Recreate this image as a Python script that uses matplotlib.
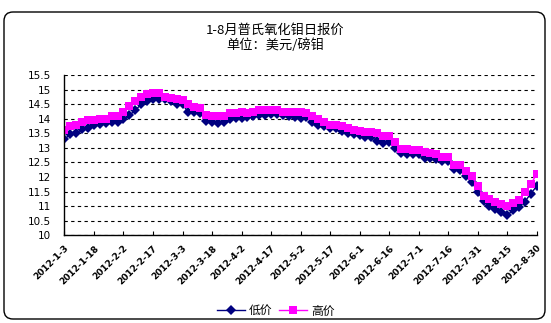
import matplotlib
matplotlib.use('Agg')
import matplotlib.pyplot as plt
from matplotlib.patches import FancyBboxPatch
import pandas as pd

plt.rcParams['font.family'] = ['Noto Sans CJK SC', 'DejaVu Sans']

# daily quote samples, every third day from 2012-01-03
start_date = '2012-01-03'
low_price = [13.3, 13.47, 13.5, 13.65, 13.7, 13.8, 13.82, 13.85, 13.9, 13.9,
             14.0, 14.12, 14.3, 14.5, 14.6, 14.7, 14.7, 14.7, 14.6, 14.52,
             14.5, 14.22, 14.22, 14.2, 13.92, 13.88, 13.87, 13.9, 13.98, 14.04,
             14.04, 14.08, 14.1, 14.12, 14.15, 14.16, 14.16, 14.12, 14.1, 14.08,
             14.04, 14.05, 13.9, 13.78, 13.75, 13.67, 13.67, 13.58, 13.52, 13.47,
             13.43, 13.38, 13.36, 13.25, 13.17, 13.2, 13.0, 12.82, 12.8, 12.8,
             12.8, 12.67, 12.67, 12.62, 12.55, 12.55, 12.28, 12.23, 12.03, 11.83,
             11.5, 11.18, 11.0, 10.9, 10.8, 10.69, 10.85, 10.98, 11.15, 11.43,
             11.68]
high_price = [13.6, 13.75, 13.78, 13.9, 13.95, 13.97, 14.0, 14.0, 14.1, 14.1,
              14.25, 14.45, 14.6, 14.75, 14.85, 14.9, 14.9, 14.75, 14.72, 14.68,
              14.66, 14.52, 14.4, 14.38, 14.12, 14.1, 14.1, 14.1, 14.2, 14.2,
              14.24, 14.2, 14.22, 14.3, 14.32, 14.32, 14.3, 14.25, 14.24, 14.24,
              14.22, 14.2, 14.1, 13.98, 13.9, 13.8, 13.78, 13.74, 13.68, 13.63,
              13.58, 13.55, 13.55, 13.5, 13.4, 13.4, 13.2, 12.98, 12.98, 12.94,
              12.94, 12.86, 12.82, 12.78, 12.7, 12.69, 12.42, 12.4, 12.2, 12.02,
              11.7, 11.35, 11.25, 11.14, 11.08, 11.0, 11.12, 11.2, 11.5, 11.75,
              12.1]
tick_labels = ['2012-1-3', '2012-1-18', '2012-2-2', '2012-2-17', '2012-3-3',
               '2012-3-18', '2012-4-2', '2012-4-17', '2012-5-2', '2012-5-17',
               '2012-6-1', '2012-6-16', '2012-7-1', '2012-7-16', '2012-7-31',
               '2012-8-15', '2012-8-30']

dates = pd.date_range(start_date, periods=len(low_price), freq='3D')
tick_dates = pd.to_datetime(tick_labels)

fig = plt.figure(figsize=(5.51, 3.23), dpi=100)

# rounded chart border
border = FancyBboxPatch((0.04, 0.04), 5.41, 3.07,
                        boxstyle='round,pad=0,rounding_size=0.09',
                        transform=fig.dpi_scale_trans,
                        facecolor='none', edgecolor='black', linewidth=1.0)
fig.patches.append(border)

ax = fig.add_axes([0.117, 0.272, 0.857, 0.495])
ax.set_facecolor('none')

ax.plot(dates, low_price, color='#000080', linewidth=1.0, marker='D',
        markersize=4.6, markeredgewidth=0, label='低价')
ax.plot(dates, high_price, color='#FF00FF', linewidth=1.0, marker='s',
        markersize=5.2, markeredgewidth=0, label='高价')

ax.set_ylim(10, 15.5)
ax.set_yticks([10 + 0.5 * i for i in range(12)])
ax.set_yticklabels(['10', '10.5', '11', '11.5', '12', '12.5', '13', '13.5',
                    '14', '14.5', '15', '15.5'], fontsize=7.5,
                   family='DejaVu Sans')
ax.yaxis.grid(True, color='black', linestyle=(0, (3, 3)), linewidth=0.8)
ax.set_axisbelow(True)
ax.tick_params(axis='y', length=0, pad=10)

ax.set_xlim(tick_dates[0], tick_dates[-1])
ax.set_xticks(tick_dates)
ax.set_xticklabels(tick_labels, rotation=45, ha='right',
                   rotation_mode='anchor', fontsize=6.5, fontweight='bold',
                   family='DejaVu Sans')
ax.tick_params(axis='x', direction='in', length=3, pad=6)

for side in ['top', 'right']:
    ax.spines[side].set_visible(False)
for side in ['left', 'bottom']:
    ax.spines[side].set_color('black')
    ax.spines[side].set_linewidth(1.0)

fig.text(0.5, 0.907, '1-8月普氏氧化钼日报价', ha='center', va='center',
         fontsize=9.5)
fig.text(0.5, 0.86, '单位：美元/磅钼', ha='center', va='center', fontsize=9.5)

fig.legend(loc='center', bbox_to_anchor=(0.5, 0.037), ncol=2, frameon=False,
           fontsize=8.5, handlelength=2.4, columnspacing=0.6,
           handletextpad=0.3)

fig.savefig('out.png', dpi=100)
